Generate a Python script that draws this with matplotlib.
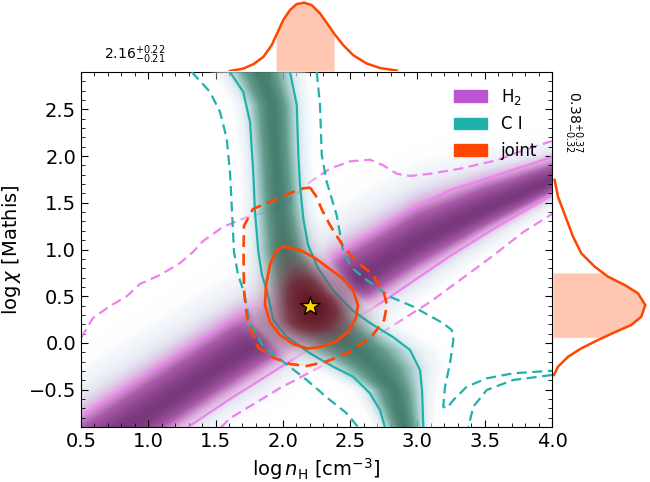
import numpy as np
import matplotlib
matplotlib.use("Agg")
import matplotlib.pyplot as plt
import matplotlib.patches as mpatches
import matplotlib.ticker as ticker
from matplotlib.colors import LinearSegmentedColormap

# ── likelihood ridges ─────────────────────────────────────────────────────────
# H2: ridge centre and half-width in log chi, as a function of log nH
H2_X  = [0.5, 1.0, 1.5, 2.0, 2.5, 3.0, 3.5, 4.0]
H2_YC = [-1.23, -0.76, -0.285, 0.17, 0.626, 1.077, 1.43, 1.74]
H2_HW = [0.43, 0.425, 0.415, 0.41, 0.41, 0.385, 0.295, 0.2]

# C I: ridge centre and half-width in log nH, as a function of log chi
CI_Y  = [-0.905, -0.508, -0.262, -0.080, 0.210, 0.564, 0.971, 1.399, 2.010, 2.546, 2.9]
CI_XC = [2.902, 2.828, 2.694, 2.553, 2.301, 2.131, 2.012, 1.975, 1.946, 1.920, 1.834]
CI_HW = [0.141, 0.2, 0.319, 0.385, 0.348, 0.245, 0.193, 0.178, 0.171, 0.183, 0.222]

# ── contour lines ─────────────────────────────────────────────────────────────
H2_1S_UP_X = [0.505, 1.236, 1.979, 2.350, 2.573, 2.945, 3.242, 3.589, 4.0]
H2_1S_UP_Y = [-0.79, -0.108, 0.566, 0.898, 1.102, 1.423, 1.634, 1.794, 1.99]
H2_1S_LO_X = [1.29, 1.310, 1.607, 2.029, 2.425, 2.796, 3.242, 3.589, 4.0]
H2_1S_LO_Y = [-0.905, -0.886, -0.600, -0.218, 0.149, 0.492, 0.930, 1.241, 1.583]
H2_2S_UP_X = [0.5, 0.589, 0.716, 0.842, 0.938, 1.087, 1.236, 1.332, 1.407, 1.555,
              1.734, 1.882, 2.031, 2.202, 2.350, 2.499, 2.648, 2.746, 2.846, 2.945,
              3.094, 3.316, 3.589, 3.787, 4.0]
H2_2S_UP_Y = [0.053, 0.267, 0.395, 0.502, 0.631, 0.727, 0.855, 0.973, 1.091, 1.241,
              1.348, 1.401, 1.508, 1.723, 1.865, 1.944, 1.961, 1.901, 1.811, 1.787,
              1.811, 1.865, 1.955, 2.062, 2.161]
H2_2S_LO_X = [1.54, 1.607, 1.979, 2.350, 2.648, 3.094, 3.539, 3.787, 4.0]
H2_2S_LO_Y = [-0.905, -0.807, -0.483, -0.201, 0.031, 0.438, 0.909, 1.187, 1.380]

CI_1S_L_X = [1.607, 1.706, 1.756, 1.780, 1.793, 1.818, 1.845, 1.880, 1.929, 2.029,
             2.202, 2.375, 2.523, 2.647, 2.722, 2.759]
CI_1S_L_Y = [2.9, 2.686, 2.365, 1.830, 1.401, 0.973, 0.727, 0.566, 0.245, 0.067,
             -0.111, -0.255, -0.362, -0.539, -0.718, -0.905]
CI_1S_R_X = [2.053, 2.103, 2.115, 2.127, 2.152, 2.187, 2.261, 2.373, 2.514, 2.648,
             2.818, 2.945, 3.019, 3.034, 3.044]
CI_1S_R_Y = [2.9, 2.547, 2.012, 1.690, 1.330, 1.048, 0.802, 0.566, 0.352, 0.213,
             0.063, -0.076, -0.290, -0.504, -0.905]
CI_2S_L_X = [1.323, 1.459, 1.533, 1.583, 1.607, 1.620, 1.637, 1.667, 1.706, 1.756,
             1.855, 2.003, 2.177, 2.350, 2.474, 2.561]
CI_2S_L_Y = [2.9, 2.686, 2.472, 2.186, 1.830, 1.473, 0.973, 0.727, 0.566, 0.210,
             -0.040, -0.201, -0.397, -0.611, -0.753, -0.905]
CI_2S_R_X = [2.252, 2.276, 2.289, 2.326, 2.400, 2.449, 2.514, 2.623, 2.796, 2.969,
             3.192, 3.255, 3.267, 3.242, 3.205, 3.192, 3.218, 3.267, 3.366, 3.515,
             3.712, 4.0]
CI_2S_R_Y = [2.9, 2.547, 2.012, 1.723, 1.366, 0.973, 0.802, 0.673, 0.495, 0.388,
             0.210, 0.138, 0.031, -0.218, -0.469, -0.683, -0.700, -0.611, -0.469, -0.379,
             -0.325, -0.297]
CI_2S_HOOK_X = [4.0, 3.712, 3.515, 3.415, 3.378]
CI_2S_HOOK_Y = [-0.343, -0.397, -0.504, -0.683, -0.905]

J_1S_X = [2.001, 2.127, 2.239, 2.328, 2.440, 2.521, 2.558, 2.543, 2.484, 2.387,
          2.276, 2.187, 2.075, 1.979, 1.904, 1.867, 1.875, 1.904, 1.949, 2.001]
J_1S_Y = [1.032, 0.995, 0.909, 0.813, 0.695, 0.566, 0.406, 0.267, 0.117, 0.010,
          -0.044, -0.060, -0.012, 0.085, 0.224, 0.406, 0.620, 0.834, 0.984, 1.032]
J_2S_X = [2.202, 2.246, 2.291, 2.350, 2.447, 2.543, 2.662, 2.744, 2.774, 2.752,
          2.662, 2.499, 2.313, 2.177, 2.053, 1.919, 1.815, 1.734, 1.711, 1.708,
          1.711, 1.778, 1.956, 2.127, 2.202]
J_2S_Y = [1.664, 1.573, 1.423, 1.262, 1.037, 0.877, 0.738, 0.566, 0.406, 0.245,
          0.074, -0.097, -0.204, -0.247, -0.226, -0.151, -0.044, 0.267, 0.566, 0.973,
          1.252, 1.434, 1.541, 1.648, 1.664]

BEST = (2.2, 0.39)

# ── marginals ─────────────────────────────────────────────────────────────────
TOP_X = [1.607, 1.706, 1.780, 1.855, 1.917, 1.95, 2.003, 2.053, 2.103, 2.157,
         2.214, 2.276, 2.338, 2.380, 2.449, 2.523, 2.623, 2.722, 2.846]
TOP_P = [0.0, 0.035, 0.099, 0.206, 0.378, 0.52, 0.746, 0.893, 0.981, 1.0,
         0.966, 0.844, 0.672, 0.55, 0.378, 0.231, 0.109, 0.044, 0.006]
TOP_RANGE = (1.95, 2.38)

RIGHT_Y = [1.744, 1.565, 1.423, 1.280, 1.137, 0.959, 0.816, 0.75, 0.709, 0.620,
           0.531, 0.406, 0.281, 0.192, 0.114, 0.06, 0.031, -0.058, -0.148, -0.255,
           -0.343]
RIGHT_P = [0.018, 0.054, 0.108, 0.163, 0.217, 0.307, 0.452, 0.541, 0.596, 0.777,
           0.921, 1.0, 0.957, 0.848, 0.668, 0.551, 0.488, 0.307, 0.163, 0.054,
           0.011]
RIGHT_RANGE = (0.06, 0.75)

XLIM = (0.5, 4.0)
YLIM = (-0.9, 2.9)

C_H2, C_CI, C_J = "violet", "lightseagreen", "orangered"

# ── fields for the shaded maps ────────────────────────────────────────────────
gx = np.linspace(*XLIM, 500)
gy = np.linspace(*YLIM, 500)
X, Y = np.meshgrid(gx, gy)

d = (Y - np.interp(X, H2_X, H2_YC)) / (0.62 * np.interp(X, H2_X, H2_HW))
d = np.where(d > 0, d / 1.35, d)
h2 = np.exp(-0.5 * d**2)

d = (X - np.interp(Y, CI_Y, CI_XC)) / (0.58 * np.interp(Y, CI_Y, CI_HW))
ci = np.exp(-0.5 * d**2)

joint = (h2 * ci) ** 0.75
joint /= joint.max()

cm_h2 = LinearSegmentedColormap.from_list("h2", [
    (0.00, (1.00, 1.00, 1.00, 0.0)),
    (0.04, (0.92, 0.94, 0.97, 0.5)),
    (0.20, (0.86, 0.86, 0.93, 0.75)),
    (0.42, (0.84, 0.60, 0.84, 0.85)),
    (0.68, (0.64, 0.30, 0.64, 0.92)),
    (1.00, (0.45, 0.18, 0.46, 0.95)),
])
cm_ci = LinearSegmentedColormap.from_list("ci", [
    (0.00, (1.00, 1.00, 1.00, 0.0)),
    (0.04, (0.91, 0.94, 0.97, 0.5)),
    (0.20, (0.76, 0.86, 0.89, 0.75)),
    (0.42, (0.52, 0.73, 0.71, 0.85)),
    (0.68, (0.34, 0.58, 0.52, 0.92)),
    (1.00, (0.24, 0.47, 0.41, 0.95)),
])
cm_j = LinearSegmentedColormap.from_list("joint", [
    (0.00, (0.55, 0.15, 0.20, 0.0)),
    (0.30, (0.60, 0.20, 0.30, 0.4)),
    (0.60, (0.50, 0.10, 0.18, 0.75)),
    (1.00, (0.40, 0.06, 0.12, 0.92)),
])

# ── figure ────────────────────────────────────────────────────────────────────
fig = plt.figure(figsize=(6.5, 4.82), dpi=100)
ax = fig.add_axes([81 / 650, 55 / 482, 471 / 650, 355 / 482])
ax_top = fig.add_axes([81 / 650, 411 / 482, 471 / 650, 71 / 482])
ax_right = fig.add_axes([553 / 650, 55 / 482, 97 / 650, 355 / 482])

ext = (*XLIM, *YLIM)
kw = dict(extent=ext, origin="lower", aspect="auto", vmin=0, vmax=1,
          interpolation="bilinear")
DASH = (4.5, 2.5)

def contour_line(xs, ys, color, ls, z, lw=1.6):
    if ls == "--":
        ax.plot(xs, ys, color=color, ls="--", dashes=DASH, lw=lw, zorder=z)
    else:
        ax.plot(xs, ys, color=color, ls="-", lw=lw, zorder=z)

ax.imshow(h2, cmap=cm_h2, zorder=1, **kw)
for (xs, ys, ls) in [(H2_1S_UP_X, H2_1S_UP_Y, "-"), (H2_1S_LO_X, H2_1S_LO_Y, "-"),
                     (H2_2S_UP_X, H2_2S_UP_Y, "--"), (H2_2S_LO_X, H2_2S_LO_Y, "--")]:
    contour_line(xs, ys, C_H2, ls, 2)

ax.imshow(ci, cmap=cm_ci, zorder=3, **kw)
for (xs, ys, ls) in [(CI_1S_L_X, CI_1S_L_Y, "-"), (CI_1S_R_X, CI_1S_R_Y, "-"),
                     (CI_2S_L_X, CI_2S_L_Y, "--"), (CI_2S_R_X, CI_2S_R_Y, "--"),
                     (CI_2S_HOOK_X, CI_2S_HOOK_Y, "--")]:
    contour_line(xs, ys, C_CI, ls, 4)

ax.imshow(joint, cmap=cm_j, zorder=5, **kw)
contour_line(J_1S_X, J_1S_Y, C_J, "-", 6, lw=1.9)
contour_line(J_2S_X, J_2S_Y, C_J, "--", 6, lw=1.9)

ax.plot(*BEST, marker="*", ms=15, mfc="gold", mec="black", mew=1.0, zorder=7)

ax.set_xlim(XLIM)
ax.set_ylim(YLIM)
ax.xaxis.set_major_locator(ticker.MultipleLocator(0.5))
ax.xaxis.set_minor_locator(ticker.MultipleLocator(0.1))
ax.yaxis.set_major_locator(ticker.MultipleLocator(0.5))
ax.yaxis.set_minor_locator(ticker.MultipleLocator(0.1))
ax.tick_params(which="both", direction="in", top=True, right=True, labelsize=14)
ax.tick_params(which="major", length=5)
ax.tick_params(which="minor", length=3)
ax.set_xlabel(r"$\log n_{\rm H}$ [cm$^{-3}$]", fontsize=14)
ax.set_ylabel(r"$\log\chi$ [Mathis]", fontsize=14)

handles = [mpatches.Patch(color="mediumorchid", label=r"H$_2$"),
           mpatches.Patch(color=C_CI, label="C I"),
           mpatches.Patch(color=C_J, label="joint")]
leg = ax.legend(handles=handles, loc="upper right", frameon=False, fontsize=12)
leg.set_zorder(10)

# top marginal
ax_top.plot(TOP_X, TOP_P, color=C_J, lw=1.8)
tx = np.array(TOP_X)
ax_top.fill_between(tx, TOP_P, where=(tx >= TOP_RANGE[0]) & (tx <= TOP_RANGE[1]),
                    color=C_J, alpha=0.3, lw=0)
ax_top.set_xlim(XLIM)
ax_top.set_ylim(0, 1.04)
ax_top.axis("off")

# right marginal
ax_right.plot(RIGHT_P, RIGHT_Y, color=C_J, lw=1.8)
ry = np.array(RIGHT_Y)
ax_right.fill_betweenx(ry, RIGHT_P, where=(ry >= RIGHT_RANGE[0]) & (ry <= RIGHT_RANGE[1]),
                       color=C_J, alpha=0.3, lw=0)
ax_right.set_ylim(YLIM)
ax_right.set_xlim(0, 1.051)
ax_right.axis("off")

fig.text(135 / 650, 1 - 55 / 482, r"$2.16^{+0.22}_{-0.21}$", fontsize=10,
         ha="center", va="center")
fig.text(573 / 650, 1 - 122 / 482, r"$0.38^{+0.37}_{-0.32}$", fontsize=10,
         ha="center", va="center", rotation=-90)

fig.savefig("out.png", dpi=100)
